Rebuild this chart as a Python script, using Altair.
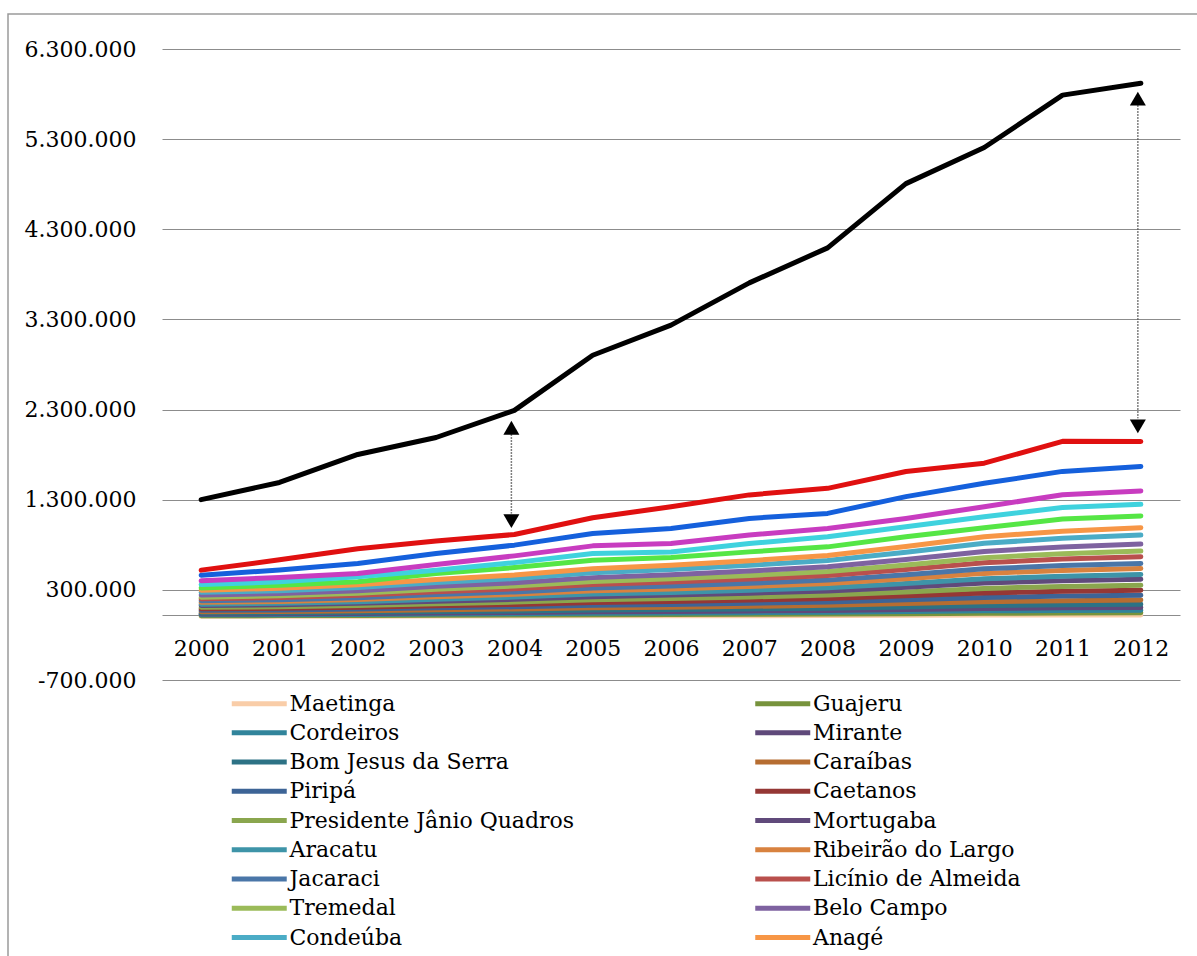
import altair as alt
import pandas as pd

anos = [str(a) for a in range(2000, 2013)]

# valores (R$ mil) de cada município, série empilhada de baixo para cima
maetinga = [6600, 7000, 7900, 9200, 10300, 11900, 12800, 13900, 15200, 17400, 19800, 21100, 22000]
guajeru = [6900, 7400, 8300, 9700, 10800, 12400, 13300, 14500, 15900, 18200, 20700, 22100, 23000]
cordeiros = [9000, 9600, 10800, 12600, 14100, 16200, 17400, 18900, 20700, 23700, 27000, 28800, 30000]
mirante = [9400, 9900, 10900, 12400, 13800, 16000, 17100, 18700, 20500, 23400, 26800, 28900, 30000]
bom_jesus = [10500, 11200, 12600, 14700, 16400, 18900, 20300, 22000, 24100, 27600, 31500, 33600, 35000]
caraibas = [13600, 14800, 16700, 19500, 21800, 25100, 27000, 29500, 32300, 37000, 42200, 45300, 47000]
piripa = [16400, 17300, 19100, 22300, 24900, 28600, 30700, 33400, 36600, 41900, 47700, 50900, 53000]
caetanos = [16800, 17900, 20200, 23500, 26300, 30200, 32500, 35300, 38600, 44200, 50400, 53800, 56000]
pres_janio = [17100, 18200, 20100, 23300, 26000, 30000, 32200, 35000, 38400, 44000, 50200, 53700, 56000]
mortugaba = [19800, 21100, 23800, 27700, 31000, 35600, 38300, 41600, 45500, 52100, 59400, 63400, 66000]
aracatu = [15600, 16600, 18700, 21800, 24400, 28100, 30200, 32800, 35900, 41100, 46800, 49900, 52000]
ribeirao = [19600, 21200, 23900, 28000, 31400, 36000, 38800, 42100, 46100, 52800, 60300, 64300, 67000]
jacaraci = [17200, 18100, 20000, 23800, 26100, 30600, 32300, 35600, 38200, 44500, 50100, 54200, 56000]
licinio = [21500, 23600, 26800, 31100, 34900, 40000, 42900, 46600, 51100, 58500, 66600, 71000, 74000]
tremedal = [18900, 20200, 22700, 26500, 29600, 34000, 36500, 39700, 43500, 49800, 56700, 60500, 63000]
belo_campo = [23400, 25000, 28100, 32800, 36700, 42100, 45200, 49100, 53800, 61600, 70200, 74900, 78000]
condeuba = [30000, 32000, 36000, 42000, 47000, 54000, 58000, 63000, 69000, 79000, 90000, 96000, 100000]
anage = [24600, 26200, 29500, 34400, 38500, 44300, 47600, 51700, 56600, 64800, 73800, 78700, 82000]
encruzilhada = [25000, 35000, 33000, 65000, 83000, 95000, 86000, 98000, 95000, 107000, 99000, 136000, 130000]
candido_sales = [37000, 37000, 55000, 38000, 55000, 74000, 62000, 93000, 111000, 111000, 122000, 126000, 129000]
planalto = [41000, 48000, 37000, 62000, 75000, 85000, 93000, 93000, 93000, 93000, 111000, 142000, 149000]
barra_choca = [63000, 82000, 112000, 123000, 119000, 137000, 167000, 185000, 167000, 242000, 260000, 259000, 271000]
pocoes = [56000, 114000, 162000, 138000, 118000, 175000, 241000, 261000, 278000, 278000, 223000, 334000, 278000]
vitoria_conquista = [782000, 858000, 1047000, 1149000, 1377000, 1803000, 2015000, 2352000, 2668000, 3194000, 3502000, 3840000, 3974000]

municipios = [
    "Maetinga", "Guajeru", "Cordeiros", "Mirante", "Bom Jesus da Serra", "Caraíbas",
    "Piripá", "Caetanos", "Presidente Jânio Quadros", "Mortugaba", "Aracatu",
    "Ribeirão do Largo", "Jacaraci", "Licínio de Almeida", "Tremedal", "Belo Campo",
    "Condeúba", "Anagé", "Encruzilhada", "Cândido Sales", "Planalto", "Barra do Choça",
    "Poções", "Vitória da Conquista",
]
# entradas da legenda visíveis no recorte da imagem
legenda_visivel = municipios[:18]
series = [
    maetinga, guajeru, cordeiros, mirante, bom_jesus, caraibas, piripa, caetanos,
    pres_janio, mortugaba, aracatu, ribeirao, jacaraci, licinio, tremedal, belo_campo,
    condeuba, anage, encruzilhada, candido_sales, planalto, barra_choca, pocoes,
    vitoria_conquista,
]
cores = [
    "#F9CDA8", "#77933C", "#31849B", "#5F497A", "#2D7285", "#B66D31",
    "#3D6496", "#953735", "#8AA64E", "#604A7B", "#3E94A8", "#D8823F",
    "#4A76A8", "#B9504D", "#9BBB59", "#7E62A0", "#4BACC6", "#F79646",
    "#55E645", "#3FD2DE", "#C83CC0", "#1560DC", "#E01010", "#000000",
]

# setas de anotação (ano, início e fim em valores do eixo)
seta_anos = ["2004", "2012"]
seta_topo = [2098000, 5749000]
seta_base = [1062000, 2114000]
seta_linha_ini = [2025000, 5676000]
seta_linha_fim = [1146000, 2203000]

rows = []
for i, (nome, vals) in enumerate(zip(municipios, series)):
    for ano, v in zip(anos, vals):
        rows.append({"municipio": nome, "idx": i, "ano": ano, "valor": v})
df = pd.DataFrame(rows)

arrows = pd.DataFrame({
    "ano": seta_anos, "topo": seta_topo, "base": seta_base,
    "ini": seta_linha_ini, "fim": seta_linha_fim,
})

FONT = "DejaVu Serif"
ticks = [-700000 + 1000000 * k for k in range(8)]

x_enc = alt.X(
    "ano:O",
    scale=alt.Scale(type="point", padding=0.5),
    axis=alt.Axis(
        title=None, ticks=False, domain=True, domainColor="#8c8c8c", domainWidth=1,
        offset=-65, labelPadding=23, labelFontSize=22, labelFont=FONT,
        labelColor="#000000", labelAngle=0, labelOverlap=False, grid=False,
    ),
)
y_scale = alt.Scale(domain=[-700000, 6300000], nice=False, zero=False)

frame = alt.Chart(pd.DataFrame({"a": [0]})).mark_rect(
    filled=False, stroke="#9a9a9a", strokeWidth=1.5
).encode(
    x=alt.value(-154), x2=alt.value(1045), y=alt.value(-35), y2=alt.value(1000)
)

lines = alt.Chart(df).transform_window(
    cum="sum(valor)", frame=[None, 0], sort=[alt.SortField("idx")], groupby=["ano"]
).mark_line(strokeWidth=5, strokeJoin="round", strokeCap="round").encode(
    x=x_enc,
    y=alt.Y(
        "cum:Q", scale=y_scale,
        axis=alt.Axis(
            title=None, values=ticks, ticks=False, domain=False, grid=True,
            gridColor="#8c8c8c", gridWidth=1, labelPadding=26, labelFontSize=22,
            labelFont=FONT, labelColor="#000000",
            labelExpr="replace(replace(format(datum.value, ','), regexp(',', 'g'), '.'), '\u2212', '-')",
        ),
    ),
    color=alt.Color(
        "municipio:N",
        scale=alt.Scale(domain=municipios, range=cores),
        legend=alt.Legend(
            title=None, orient="none", legendX=94.5, legendY=638, columns=2,
            direction="horizontal",
            columnPadding=170.5, rowPadding=1.25, symbolType="M-3,0H1", symbolSize=756,
            symbolStrokeWidth=5, labelFont=FONT, labelFontSize=22,
            labelColor="#000000", labelLimit=500, labelOffset=0, padding=0,
            values=legenda_visivel,
        ),
    ),
    order=alt.Order("ano:O"),
)

dash = alt.Chart(arrows).mark_rule(
    color="#555555", strokeWidth=1.5, strokeDash=[1.5, 1.5], xOffset=-3
).encode(x=x_enc, y=alt.Y("ini:Q", scale=y_scale), y2="fim:Q")

head_up = alt.Chart(arrows).mark_point(
    shape="triangle-up", filled=True, size=256, color="#000000", opacity=1, xOffset=-3
).encode(x=x_enc, y=alt.Y("topo:Q", scale=y_scale))

head_down = alt.Chart(arrows).mark_point(
    shape="triangle-down", filled=True, size=256, color="#000000", opacity=1, xOffset=-3
).encode(x=x_enc, y=alt.Y("base:Q", scale=y_scale))

chart = alt.layer(frame, lines, dash, head_up, head_down).properties(
    width=1018, height=631,
    autosize=alt.AutoSizeParams(type="none"),
    padding={"left": 162, "top": 49, "right": 17, "bottom": 276},
    background="#ffffff",
).configure_view(stroke=None)

chart.save("out.html", embed_options={"renderer": "svg", "actions": False})
